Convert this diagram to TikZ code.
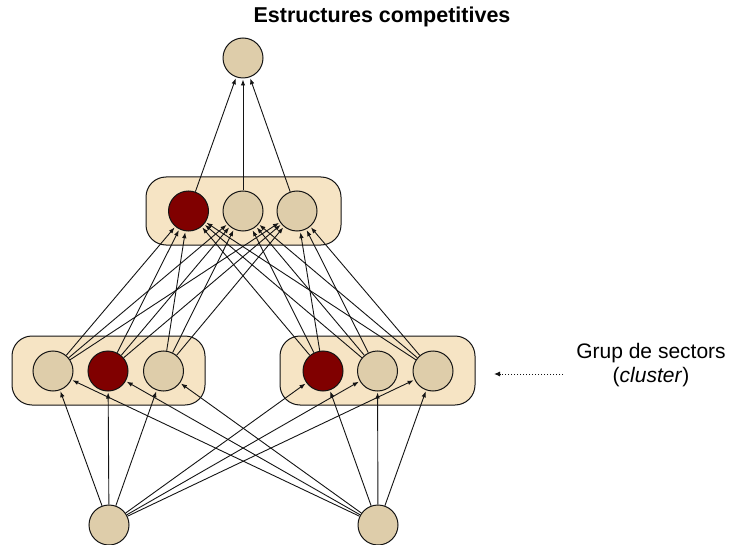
\documentclass[tikz,border=0pt]{standalone}
\usepackage{fontspec}
\setmainfont{Liberation Sans}
\usetikzlibrary{arrows.meta}
\definecolor{unitfill}{RGB}{222,205,170}
\definecolor{groupfill}{RGB}{246,228,196}
\definecolor{winner}{RGB}{128,0,0}
\definecolor{wire}{RGB}{20,20,20}
\begin{document}
\begin{tikzpicture}[x=1pt,y=-1pt,
  unit/.style={circle,draw=wire,line width=1pt,fill=unitfill,minimum size=40pt,inner sep=0pt},
  winunit/.style={unit,fill=winner},
  groupbox/.style={rectangle,rounded corners=20pt,draw=wire,line width=1pt,fill=groupfill,inner sep=0pt},
  link/.style={draw=wire,line width=0.9pt,shorten >=1pt,-{Latex[length=6pt,width=4.5pt]}},
  label/.style={font=\fontsize{21}{24}\selectfont,align=center}
]
\useasboundingbox (0,0) rectangle (730,545);

% cluster backgrounds
\node[groupbox,minimum width=195pt,minimum height=68pt] (gm) at (243.5,211) {};
\node[groupbox,minimum width=193pt,minimum height=69pt] (gl) at (108.5,370.5) {};
\node[groupbox,minimum width=195pt,minimum height=69pt] (gr) at (377.5,370.5) {};

% units
\node[unit] (t) at (243,58) {};
\node[winunit] (m1) at (188.5,211) {};
\node[unit] (m2) at (243,211) {};
\node[unit] (m3) at (297,211) {};
\node[unit] (l1) at (53,371) {};
\node[winunit] (l2) at (108,371) {};
\node[unit] (l3) at (163.5,371) {};
\node[winunit] (r1) at (323,371) {};
\node[unit] (r2) at (377.5,371) {};
\node[unit] (r3) at (433,371) {};
\node[unit] (b1) at (109,525) {};
\node[unit] (b2) at (378,525) {};

% connections
\foreach \s in {b1,b2}
  \foreach \d in {l1,l2,l3,r1,r2,r3}
    \draw[link] (\s) -- (\d);
\foreach \s in {l1,l2,l3,r1,r2,r3}
  \foreach \d in {m1,m2,m3}
    \draw[link] (\s) -- (\d);
\foreach \s in {m1,m2,m3}
  \draw[link] (\s) -- (t);

% labels
\node[font=\fontsize{21.5}{24}\bfseries\selectfont] (title) at (382,17) {Estructures competitives};
\node[label] (cl) at (651,365) {Grup de sectors\\(\textit{cluster})};
\coordinate (ca) at (563,374);
\coordinate (cb) at (494,374);
\draw[wire,line width=1pt,dash pattern=on 1.5pt off 1.5pt,-{Latex[length=6pt,width=5pt]}] (ca) -- (cb);
\end{tikzpicture}
\end{document}
